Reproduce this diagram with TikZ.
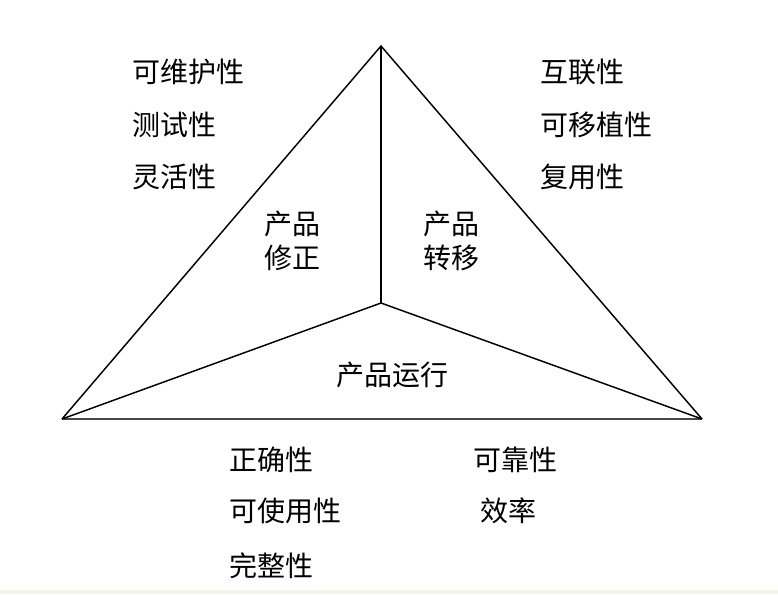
\documentclass[tikz,border=0pt]{standalone}
\usepackage{fontspec}
\newfontfamily\cjk{Noto Sans CJK SC}
\definecolor{strip}{RGB}{248,243,232}
\begin{document}
\begin{tikzpicture}[x=0.75pt,y=-0.75pt,
  edge/.style={draw=black,line width=1.1pt,line join=miter},
  base/.style={draw=black!72,line width=1.7pt},
  lbl/.style={font=\cjk\fontsize{21}{25}\selectfont,inner sep=0pt,anchor=west},
  mid/.style={font=\cjk\fontsize{21}{26}\selectfont,inner sep=0pt,align=center}]
\useasboundingbox (0,0) rectangle (778,594);
\fill[white] (0,0) rectangle (778,594);
\fill[strip] (0,590) rectangle (778,594);
% triangle vertices and centre
\coordinate (top) at (381,46);
\coordinate (lft) at (62,419);
\coordinate (rgt) at (702,419);
\coordinate (ctr) at (381,303);
\draw[base] (lft) -- (rgt);
\draw[edge] (lft) -- (top) -- (rgt);
\draw[edge] (top) -- (ctr);
\draw[edge] (lft) -- (ctr) -- (rgt);
% factor groups
\node[mid] (rev) at (292,241) {产品\\修正};
\node[mid] (tra) at (451,241) {产品\\转移};
\node[mid] (opr) at (392,375) {产品运行};
% quality attributes
\node[lbl] (m1) at (132,72) {可维护性};
\node[lbl] (m2) at (132,125) {测试性};
\node[lbl] (m3) at (132,177) {灵活性};
\node[lbl] (t1) at (540,72) {互联性};
\node[lbl] (t2) at (540,125) {可移植性};
\node[lbl] (t3) at (540,177) {复用性};
\node[lbl] (o1) at (229,460) {正确性};
\node[lbl] (o2) at (229,511) {可使用性};
\node[lbl] (o3) at (229,566) {完整性};
\node[lbl] (o4) at (473,460) {可靠性};
\node[lbl] (o5) at (480,511) {效率};
\end{tikzpicture}
\end{document}
